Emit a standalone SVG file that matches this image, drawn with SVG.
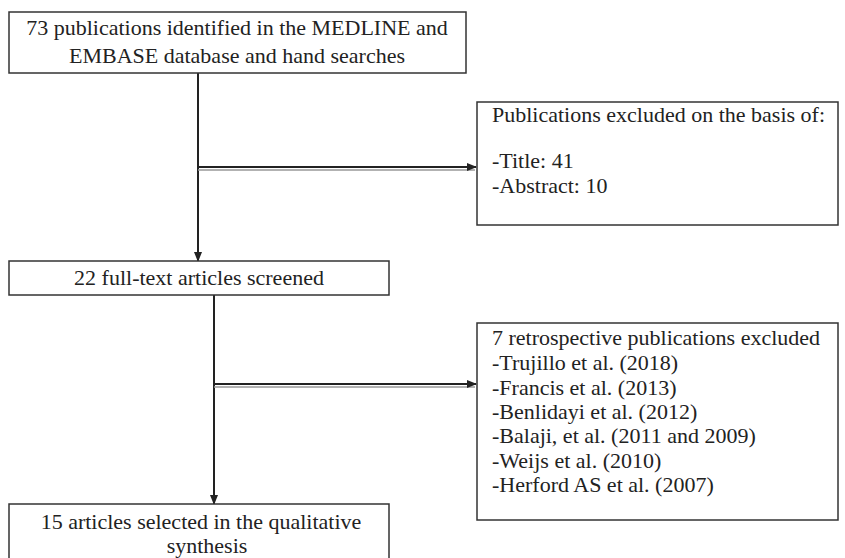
<svg xmlns="http://www.w3.org/2000/svg" width="845" height="558" viewBox="0 0 845 558">
<defs>
<style>
.box{fill:#fff;stroke:#333;stroke-width:1.5}
.t{font-family:"Liberation Serif","Times New Roman",serif;font-size:22px;fill:#222}
.c{text-anchor:middle}
.ln{stroke:#222;stroke-width:2;fill:none}
.gl{stroke:#999;stroke-width:1.5;fill:none}
</style>
<marker id="ah" markerWidth="10" markerHeight="8" refX="9" refY="4" orient="auto" markerUnits="userSpaceOnUse">
<path d="M0,0 L10,4 L0,8 Z" fill="#222"/>
</marker>
</defs>
<rect width="845" height="558" fill="#fff"/>
<g id="connectors">
<line class="ln" x1="198" y1="73" x2="198" y2="261" marker-end="url(#ah)"/>
<line class="gl" x1="198" y1="170" x2="475" y2="170"/>
<line class="ln" x1="198" y1="167" x2="476" y2="167" marker-end="url(#ah)"/>
<line class="ln" x1="214" y1="295" x2="214" y2="504" marker-end="url(#ah)"/>
<line class="gl" x1="214" y1="387" x2="475" y2="387"/>
<line class="ln" x1="214" y1="384" x2="476" y2="384" marker-end="url(#ah)"/>
</g>
<g id="n1">
<rect class="box" x="9" y="12" width="457" height="61"/>
<text class="t c" x="237" y="35">73 publications identified in the MEDLINE and</text>
<text class="t c" x="237" y="63">EMBASE database and hand searches</text>
</g>
<g id="n2">
<rect class="box" x="477" y="102" width="361" height="123"/>
<text class="t" x="492" y="122">Publications excluded on the basis of:</text>
<text class="t" x="492" y="168">-Title: 41</text>
<text class="t" x="492" y="193">-Abstract: 10</text>
</g>
<g id="n3">
<rect class="box" x="9" y="261" width="380" height="34"/>
<text class="t c" x="199" y="285">22 full-text articles screened</text>
</g>
<g id="n4">
<rect class="box" x="477" y="323" width="361" height="197"/>
<text class="t" x="492" y="345">7 retrospective publications excluded</text>
<text class="t" x="492" y="370">-Trujillo et al. (2018)</text>
<text class="t" x="492" y="395">-Francis et al. (2013)</text>
<text class="t" x="492" y="419">-Benlidayi et al. (2012)</text>
<text class="t" x="492" y="443">-Balaji, et al. (2011 and 2009)</text>
<text class="t" x="492" y="468">-Weijs et al. (2010)</text>
<text class="t" x="492" y="492">-Herford AS et al. (2007)</text>
</g>
<g id="n5">
<rect class="box" x="9" y="504" width="380" height="60"/>
<text class="t c" x="201" y="529">15 articles selected in the qualitative</text>
<text class="t c" x="207" y="553">synthesis</text>
</g>
</svg>
